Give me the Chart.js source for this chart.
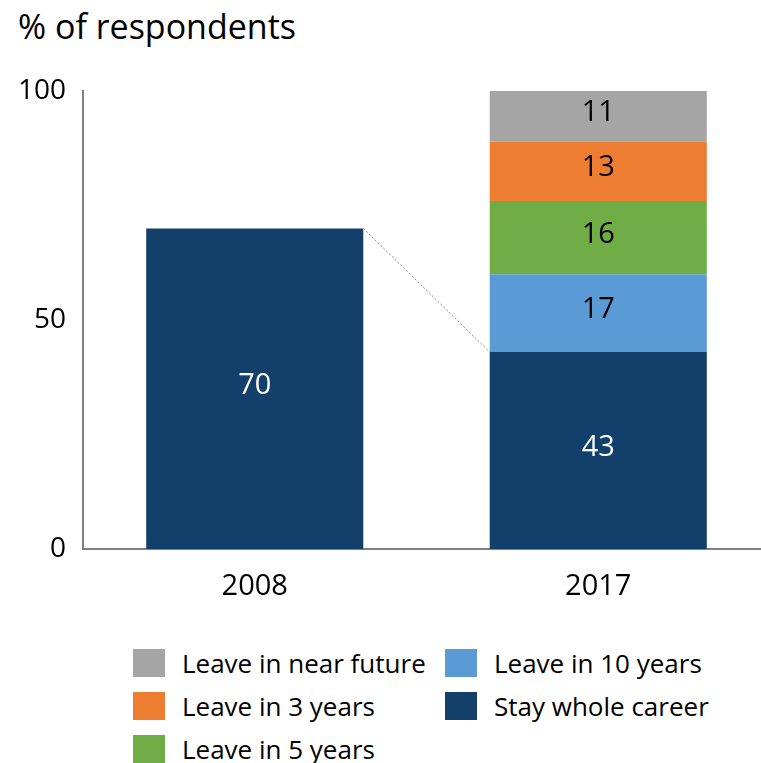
<!DOCTYPE html>
<html>
<head>
<meta charset="utf-8">
<script src="https://cdn.jsdelivr.net/npm/chart.js@4"></script>
<style>
  html, body { margin: 0; padding: 0; background: #fff; overflow: hidden; }
  body { width: 761px; height: 763px; position: relative; font-family: "Open Sans", "DejaVu Sans", sans-serif; }
  #title { position: absolute; left: 18px; top: 3px; font-size: 34px; color: #000; }
  #wrap { position: absolute; left: 0; top: 0; width: 775px; height: 620px; }
  #legend { position: absolute; left: 133px; top: 645px; width: 620px; }
  .item { position: absolute; display: flex; align-items: center; font-size: 26px; color: #000; white-space: nowrap; }
  .item span.box { width: 32px; height: 28px; margin-right: 17px; display: inline-block; }
</style>
</head>
<body>
<div id="title">% of respondents</div>
<div id="wrap"><canvas id="chart"></canvas></div>
<div id="legend"></div>
<script>
const years = ['2008', '2017'];
const stayWholeCareer = [70, 43];
const leaveIn10Years = [null, 17];
const leaveIn5Years = [null, 16];
const leaveIn3Years = [null, 13];
const leaveNearFuture = [null, 11];
const yTicks = [0, 50, 100];

const FONT = '"Open Sans", "DejaVu Sans", sans-serif';
const NAVY = '#133f6b';
const series = [
  { label: 'Stay whole career', data: stayWholeCareer, color: NAVY, text: '#fff' },
  { label: 'Leave in 10 years', data: leaveIn10Years, color: '#5b9bd5', text: '#000' },
  { label: 'Leave in 5 years', data: leaveIn5Years, color: '#70ad47', text: '#000' },
  { label: 'Leave in 3 years', data: leaveIn3Years, color: '#ed7d31', text: '#000' },
  { label: 'Leave in near future', data: leaveNearFuture, color: '#a5a5a5', text: '#000' }
];

// value labels in the middle of each segment
const segmentLabels = {
  id: 'segmentLabels',
  afterDatasetsDraw(chart) {
    const ctx = chart.ctx;
    ctx.save();
    ctx.font = '29px ' + FONT;
    ctx.textAlign = 'center';
    ctx.textBaseline = 'middle';
    chart.data.datasets.forEach((ds, di) => {
      chart.getDatasetMeta(di).data.forEach((bar, i) => {
        const v = ds.data[i];
        if (v == null) return;
        ctx.fillStyle = series[di].text;
        ctx.fillText(String(v), bar.x, (bar.y + bar.base) / 2 - 3);
      });
    });
    ctx.restore();
  }
};

// dotted connector from the 2008 bar top to the 2017 base segment top
const connector = {
  id: 'connector',
  afterDatasetsDraw(chart) {
    const meta = chart.getDatasetMeta(0);
    const a = meta.data[0], b = meta.data[1];
    const ctx = chart.ctx;
    ctx.save();
    ctx.strokeStyle = '#888';
    ctx.lineWidth = 1;
    ctx.setLineDash([2, 2]);
    ctx.beginPath();
    ctx.moveTo(a.x + a.width / 2, a.y);
    ctx.lineTo(b.x - b.width / 2, b.y);
    ctx.stroke();
    ctx.restore();
  }
};

new Chart(document.getElementById('chart'), {
  type: 'bar',
  data: {
    labels: years,
    datasets: series.map(s => ({
      label: s.label,
      data: s.data,
      backgroundColor: s.color,
      borderWidth: 0,
      categoryPercentage: 1,
      barPercentage: 0.632
    }))
  },
  options: {
    responsive: true,
    maintainAspectRatio: false,
    animation: false,
    layout: { padding: { top: 91, right: 5, left: 0, bottom: 0 } },
    plugins: { legend: { display: false }, tooltip: { enabled: false } },
    scales: {
      x: {
        stacked: true,
        grid: { display: false, drawTicks: false },
        border: { color: '#808080', width: 2 },
        ticks: { color: '#000', padding: 20, font: { size: 29, family: FONT } },
        afterFit(s) { s.height = 71; }
      },
      y: {
        stacked: true,
        min: 0,
        max: 100,
        afterBuildTicks(s) { s.ticks = yTicks.map(v => ({ value: v })); },
        grid: { display: false, drawTicks: false },
        border: { color: '#808080', width: 2 },
        ticks: { color: '#000', padding: 17, font: { size: 28, family: FONT } },
        afterFit(s) { s.width = 83; }
      }
    }
  },
  plugins: [connector, segmentLabels]
});

// legend: two columns, same order as drawn
const legendOrder = [
  [4, 0, 0], [1, 1, 0],
  [3, 0, 1], [0, 1, 1],
  [2, 0, 2]
];
const legend = document.getElementById('legend');
legendOrder.forEach(([si, col, row]) => {
  const el = document.createElement('div');
  el.className = 'item';
  el.style.left = (col * 312) + 'px';
  el.style.top = (row * 43) + 'px';
  el.innerHTML = '<span class="box" style="background:' + series[si].color + '"></span>' + series[si].label;
  legend.appendChild(el);
});
</script>
</body>
</html>
